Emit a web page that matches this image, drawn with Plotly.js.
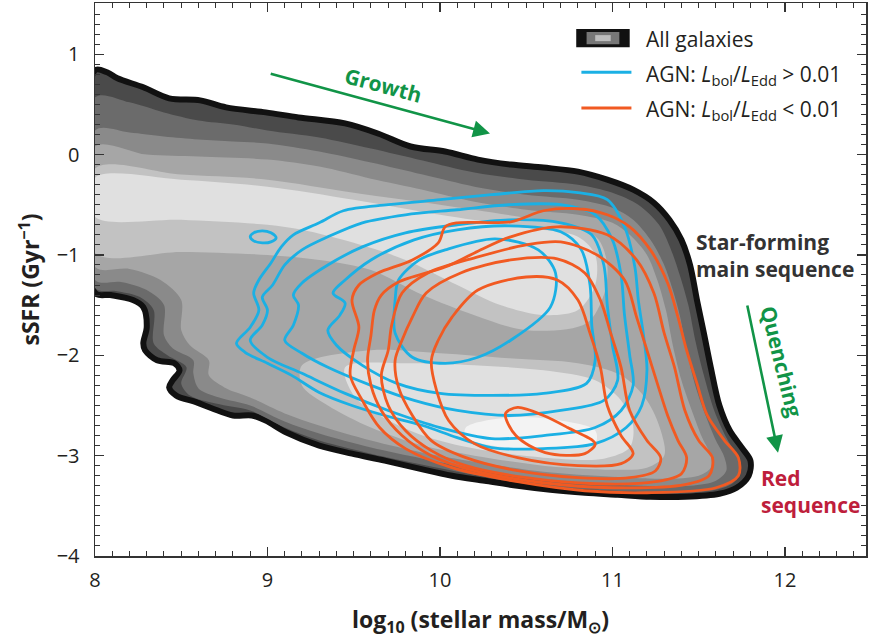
<!DOCTYPE html>
<html><head><meta charset="utf-8">
<script src="https://cdn.plot.ly/plotly-3.0.1.min.js"></script>
<style>html,body{margin:0;padding:0;background:#fff}#chart{width:869px;height:639px}</style>
</head><body><div id="chart"></div>
<script>
// ---------- All galaxies: nested density levels (outer -> inner) ----------
const galA_x = [8.0,8.07,8.13,8.28,8.43,8.61,8.76,8.99,9.18,9.45,9.64,9.83,10.03,10.22,10.41,10.6,10.8,10.97,11.12,11.24,11.33,11.4,11.45,11.49,11.53,11.57,11.62,11.68,11.75,11.8,11.79,11.72,11.62,11.42,11.22,11.03,10.84,10.64,10.45,10.26,10.07,9.88,9.68,9.49,9.3,9.11,8.99,8.91,8.8,8.68,8.59,8.47,8.43,8.45,8.49,8.46,8.36,8.29,8.28,8.3,8.28,8.22,8.09,8.0];
const galA_y = [0.84,0.82,0.76,0.67,0.56,0.54,0.47,0.42,0.37,0.31,0.21,0.08,0.03,-0.05,-0.1,-0.13,-0.17,-0.25,-0.35,-0.48,-0.65,-0.85,-1.1,-1.45,-1.78,-2.12,-2.5,-2.75,-2.92,-3.05,-3.2,-3.32,-3.38,-3.41,-3.41,-3.39,-3.37,-3.34,-3.3,-3.25,-3.2,-3.13,-3.05,-2.98,-2.9,-2.77,-2.65,-2.6,-2.6,-2.53,-2.47,-2.4,-2.32,-2.25,-2.15,-2.08,-2.05,-1.95,-1.88,-1.72,-1.52,-1.45,-1.4,-1.38];
const galB_x = [8.0,8.2,8.4,8.6,8.8,9.0,9.3,9.6,9.9,10.2,10.5,10.8,11.0,11.15,11.27,11.34,11.39,11.44,11.48,11.53,11.59,11.66,11.72,11.74,11.7,11.6,11.4,11.0,10.6,10.2,9.9,9.6,9.3,9.1,8.9,8.7,8.55,8.5,8.53,8.42,8.34,8.34,8.26,8.12,8.0];
const galB_y = [0.57,0.52,0.42,0.34,0.3,0.24,0.17,0.06,-0.06,-0.18,-0.25,-0.3,-0.38,-0.5,-0.7,-0.95,-1.2,-1.5,-1.85,-2.2,-2.55,-2.82,-3.0,-3.15,-3.27,-3.34,-3.37,-3.35,-3.3,-3.19,-3.09,-2.98,-2.85,-2.72,-2.55,-2.48,-2.4,-2.28,-2.12,-2.0,-1.88,-1.55,-1.42,-1.36,-1.33];
const galC_x = [8.0,8.2,8.4,8.6,8.8,9.0,9.3,9.6,9.9,10.2,10.5,10.8,11.0,11.12,11.22,11.3,11.35,11.39,11.43,11.48,11.54,11.6,11.65,11.66,11.6,11.45,11.0,10.6,10.2,9.9,9.6,9.3,9.1,8.9,8.72,8.6,8.57,8.57,8.45,8.4,8.4,8.3,8.15,8.0];
const galC_y = [0.24,0.22,0.18,0.15,0.13,0.11,0.03,-0.08,-0.2,-0.32,-0.4,-0.45,-0.53,-0.65,-0.85,-1.1,-1.35,-1.6,-1.95,-2.3,-2.6,-2.85,-3.02,-3.15,-3.25,-3.3,-3.29,-3.24,-3.13,-3.03,-2.92,-2.78,-2.66,-2.5,-2.42,-2.33,-2.18,-2.05,-1.93,-1.8,-1.5,-1.35,-1.27,-1.25];
const galD_x = [8.0,8.3,8.6,9.0,9.3,9.6,9.9,10.2,10.5,10.8,11.0,11.1,11.2,11.26,11.31,11.35,11.4,11.46,11.52,11.57,11.57,11.5,11.3,11.0,10.6,10.2,9.9,9.6,9.3,9.1,8.9,8.75,8.66,8.66,8.55,8.5,8.5,8.38,8.2,8.0];
const galD_y = [0.08,0.0,-0.02,-0.05,-0.12,-0.24,-0.35,-0.47,-0.55,-0.6,-0.68,-0.8,-1.0,-1.25,-1.55,-1.9,-2.25,-2.55,-2.82,-3.0,-3.12,-3.2,-3.23,-3.21,-3.16,-3.06,-2.97,-2.85,-2.7,-2.58,-2.42,-2.32,-2.2,-2.05,-1.9,-1.75,-1.45,-1.25,-1.14,-1.12];
const galE1_x = [8.0,8.5,9.0,9.5,10.0,10.5,10.8,10.92,10.97,10.95,10.85,10.5,10.2,9.9,9.6,9.3,9.0,8.5,8.0];
const galE1_y = [-0.14,-0.2,-0.25,-0.38,-0.5,-0.63,-0.72,-0.85,-1.1,-1.4,-1.68,-1.75,-1.6,-1.4,-1.15,-1.05,-1.0,-0.97,-0.98];
const galE2_x = [9.2,9.6,10.0,10.4,10.8,11.05,11.2,11.28,11.3,11.2,11.0,10.6,10.2,9.9,9.6,9.35,9.2];
const galE2_y = [-2.1,-1.95,-1.98,-2.03,-2.08,-2.2,-2.45,-2.75,-3.0,-3.12,-3.14,-3.1,-3.0,-2.9,-2.72,-2.5,-2.3];
const galF1_x = [8.0,8.5,9.0,9.5,10.0,10.5,10.8,10.9,10.9,10.8,10.6,10.35,10.1,9.8,9.5,9.2,9.0,8.5,8.0];
const galF1_y = [-0.23,-0.25,-0.32,-0.45,-0.6,-0.73,-0.82,-1.0,-1.3,-1.55,-1.6,-1.5,-1.3,-1.05,-0.88,-0.75,-0.7,-0.65,-0.62];
const galF2_x = [9.45,9.8,10.2,10.6,10.9,11.05,11.12,11.1,10.95,10.6,10.2,9.9,9.65,9.5];
const galF2_y = [-2.12,-2.08,-2.1,-2.15,-2.25,-2.45,-2.7,-2.92,-3.03,-3.02,-2.93,-2.8,-2.6,-2.4];
const galG_x = [10.15,10.4,10.7,10.9,10.9,10.6,10.3,10.15];
const galG_y = [-2.72,-2.62,-2.65,-2.75,-2.88,-2.94,-2.9,-2.82];

// ---------- AGN L_bol/L_Edd > 0.01 (blue contours) ----------
const blue1_x = [8.82,8.9,8.95,8.92,8.95,9.02,9.08,9.15,9.3,9.44,9.7,10.0,10.3,10.6,10.8,10.97,11.07,11.13,11.15,11.18,11.2,11.17,11.08,10.9,10.6,10.3,10.1,9.9,9.68,9.49,9.3,9.14,9.0,8.87];
const blue1_y = [-1.88,-1.72,-1.55,-1.38,-1.25,-1.08,-0.92,-0.8,-0.68,-0.56,-0.5,-0.45,-0.4,-0.36,-0.38,-0.45,-0.72,-1.12,-1.45,-1.8,-2.15,-2.5,-2.72,-2.88,-2.93,-2.92,-2.82,-2.7,-2.6,-2.5,-2.37,-2.2,-2.08,-1.97];
const blue2_x = [8.9,8.97,9.0,8.97,9.03,9.1,9.2,9.35,9.55,9.8,10.1,10.4,10.7,10.9,11.0,11.05,11.07,11.1,11.12,11.05,10.9,10.6,10.3,10.0,9.7,9.45,9.2,9.0];
const blue2_y = [-1.85,-1.7,-1.55,-1.42,-1.3,-1.1,-0.95,-0.82,-0.68,-0.6,-0.55,-0.5,-0.5,-0.6,-0.85,-1.2,-1.6,-2.0,-2.3,-2.55,-2.72,-2.8,-2.83,-2.72,-2.55,-2.38,-2.18,-2.02];
const blue3_x = [9.1,9.15,9.18,9.15,9.2,9.35,9.55,9.8,10.1,10.4,10.7,10.88,10.95,10.97,11.0,11.03,10.95,10.7,10.4,10.1,9.85,9.6,9.35,9.2];
const blue3_y = [-1.85,-1.7,-1.5,-1.4,-1.28,-1.1,-0.92,-0.78,-0.7,-0.65,-0.68,-0.8,-1.1,-1.5,-1.9,-2.25,-2.45,-2.55,-2.6,-2.55,-2.45,-2.3,-2.12,-1.98];
const blue4_x = [9.35,9.42,9.45,9.38,9.45,9.6,9.85,10.1,10.4,10.7,10.82,10.87,10.88,10.9,10.85,10.6,10.3,10.0,9.75,9.55,9.4];
const blue4_y = [-1.75,-1.6,-1.48,-1.38,-1.25,-1.05,-0.85,-0.75,-0.71,-0.77,-0.95,-1.3,-1.7,-2.05,-2.28,-2.38,-2.4,-2.38,-2.28,-2.1,-1.9];
const blue5_x = [9.74,9.76,9.88,10.03,10.32,10.57,10.67,10.64,10.41,10.22,10.03,9.84,9.74];
const blue5_y = [-1.45,-1.25,-1.05,-0.95,-0.84,-0.95,-1.18,-1.52,-1.85,-2.02,-2.08,-2.02,-1.78];
const blue6_x = [8.9,8.92,8.97,9.02,9.05,9.02,8.97,8.92];
const blue6_y = [-0.82,-0.78,-0.76,-0.78,-0.83,-0.87,-0.88,-0.86];

// ---------- AGN L_bol/L_Edd < 0.01 (orange contours) ----------
const orange1_x = [9.99,10.03,10.1,10.41,10.6,10.8,10.97,11.1,11.22,11.32,11.38,11.43,11.49,11.55,11.65,11.73,11.73,11.6,11.2,10.84,10.45,10.07,9.8,9.65,9.55,9.48,9.5,9.53,9.49,9.53,9.64,9.84];
const orange1_y = [-0.88,-0.72,-0.68,-0.67,-0.56,-0.54,-0.6,-0.72,-0.95,-1.28,-1.62,-1.95,-2.28,-2.6,-2.85,-3.02,-3.2,-3.32,-3.37,-3.35,-3.26,-3.12,-2.93,-2.72,-2.45,-2.2,-1.95,-1.72,-1.45,-1.3,-1.18,-1.05];
const orange2_x = [10.03,10.2,10.41,10.68,10.97,11.14,11.24,11.3,11.36,11.42,11.5,11.58,11.56,11.42,11.0,10.6,10.2,9.95,9.78,9.66,9.6,9.58,9.6,9.62,9.66,9.76];
const orange2_y = [-1.12,-0.98,-0.82,-0.72,-0.8,-1.05,-1.38,-1.78,-2.12,-2.55,-2.85,-3.02,-3.2,-3.29,-3.32,-3.27,-3.15,-3.0,-2.8,-2.55,-2.3,-2.05,-1.8,-1.55,-1.4,-1.27];
const orange3_x = [9.78,9.93,10.22,10.5,10.7,10.91,11.07,11.14,11.2,11.26,11.32,11.38,11.43,11.4,11.25,10.9,10.5,10.15,9.95,9.8,9.7,9.66,9.7,9.72];
const orange3_y = [-1.38,-1.18,-1.02,-0.9,-0.87,-1.0,-1.25,-1.62,-1.95,-2.28,-2.6,-2.85,-3.02,-3.18,-3.26,-3.28,-3.22,-3.1,-2.95,-2.75,-2.5,-2.2,-1.95,-1.7];
const orange4_x = [9.84,9.92,10.12,10.41,10.68,10.84,10.93,10.99,11.05,11.1,11.2,11.28,11.25,11.1,10.8,10.45,10.15,9.95,9.84,9.76,9.74,9.78];
const orange4_y = [-1.62,-1.38,-1.18,-1.05,-1.04,-1.18,-1.45,-1.78,-2.12,-2.55,-2.85,-3.02,-3.15,-3.22,-3.22,-3.15,-3.02,-2.85,-2.6,-2.32,-2.05,-1.85];
const orange5_x = [10.07,10.22,10.5,10.68,10.8,10.87,10.93,10.97,11.05,11.12,11.05,10.8,10.45,10.2,10.05,9.98,9.95,9.99];
const orange5_y = [-1.62,-1.35,-1.22,-1.25,-1.45,-1.78,-2.12,-2.5,-2.8,-2.98,-3.08,-3.1,-3.02,-2.88,-2.65,-2.35,-2.05,-1.85];
const orange6_x = [10.38,10.45,10.6,10.74,10.9,10.84,10.61,10.44];
const orange6_y = [-2.58,-2.52,-2.6,-2.72,-2.88,-2.98,-2.97,-2.8];

const xTickVals = [8,9,10,11,12];
const yTickVals = [-4,-3,-2,-1,0,1];

const BLUE = '#1bb0e4', ORANGE = '#f15a22', GREEN = '#119447', RED = '#be1e3c', INK = '#231f20';
const FONT = 'Open Sans, Noto Sans, sans-serif';
const X_RANGE = [8, 12.47], Y_RANGE = [-4, 1.51];

function loop(x, y, fill, lineColor, width) {
  return {
    type: 'scatter', mode: 'lines',
    x: x.concat([x[0]]), y: y.concat([y[0]]),
    fill: fill ? 'toself' : 'none', fillcolor: fill || undefined,
    line: {color: lineColor || 'rgba(0,0,0,0)', width: width || 0, shape: 'spline', smoothing: 0.9},
    hoverinfo: 'skip', showlegend: false
  };
}

const traces = [
  loop(galA_x, galA_y, '#4a4a4a', '#111111', 6),
  loop(galB_x, galB_y, '#6b6b6b'),
  loop(galC_x, galC_y, '#8a8a8a'),
  loop(galD_x, galD_y, '#a6a6a6'),
  loop(galE1_x, galE1_y, '#c2c2c2'),
  loop(galE2_x, galE2_y, '#c2c2c2'),
  loop(galF1_x, galF1_y, '#e0e0e0'),
  loop(galF2_x, galF2_y, '#e0e0e0'),
  loop(galG_x, galG_y, '#f3f3f3'),
  loop(blue1_x, blue1_y, null, BLUE, 2.8),
  loop(blue2_x, blue2_y, null, BLUE, 2.8),
  loop(blue3_x, blue3_y, null, BLUE, 2.8),
  loop(blue4_x, blue4_y, null, BLUE, 2.8),
  loop(blue5_x, blue5_y, null, BLUE, 2.8),
  loop(blue6_x, blue6_y, null, BLUE, 2.8),
  loop(orange1_x, orange1_y, null, ORANGE, 2.8),
  loop(orange2_x, orange2_y, null, ORANGE, 2.8),
  loop(orange3_x, orange3_y, null, ORANGE, 2.8),
  loop(orange4_x, orange4_y, null, ORANGE, 2.8),
  loop(orange5_x, orange5_y, null, ORANGE, 2.8),
  loop(orange6_x, orange6_y, null, ORANGE, 2.8),
  // empty trace that only carries the top/right tick axes
  {type: 'scatter', mode: 'lines', x: [], y: [], xaxis: 'x2', yaxis: 'y2', hoverinfo: 'skip', showlegend: false}
];

const axisCommon = {
  ticks: 'inside', ticklen: 9, tickwidth: 1.3, tickcolor: '#333',
  minor: {ticks: 'inside', ticklen: 5, tickwidth: 1, tickcolor: '#333', dtick: 0.1},
  showline: true, linecolor: '#333', linewidth: 1.5, mirror: 'ticks',
  showgrid: false, zeroline: false,
  tickfont: {family: FONT, size: 20, color: INK}
};
const mirrorAxis = {
  ticks: 'inside', ticklen: 9, tickwidth: 1.3, tickcolor: '#333',
  minor: {ticks: 'inside', ticklen: 5, tickwidth: 1, tickcolor: '#333', dtick: 0.1},
  showline: false, showgrid: false, zeroline: false, showticklabels: false
};

const layout = {
  width: 869, height: 639,
  margin: {l: 95, r: 3, t: 3, b: 83},
  paper_bgcolor: '#fff', plot_bgcolor: '#fff',
  showlegend: false, hovermode: false,
  xaxis: Object.assign({}, axisCommon, {
    range: X_RANGE, tickvals: xTickVals, ticktext: xTickVals.map(String),
    ticklabelstandoff: 5,
    title: {text: 'log<sub>10</sub> (stellar mass/M<sub>⊙</sub>)', standoff: 20,
            font: {family: FONT, size: 23, color: INK, weight: 'bold'}}
  }),
  yaxis: Object.assign({}, axisCommon, {
    range: Y_RANGE, tickvals: yTickVals, ticktext: yTickVals.map(v => v < 0 ? '−' + Math.abs(v) : String(v)),
    ticklabelstandoff: 10,
    title: {text: 'sSFR (Gyr<sup>−1</sup>)', standoff: 10,
            font: {family: FONT, size: 23, color: INK, weight: 'bold'}}
  }),
  xaxis2: Object.assign({}, mirrorAxis, {overlaying: 'x', side: 'top', anchor: 'y2', range: X_RANGE, dtick: 1, tick0: 8}),
  yaxis2: Object.assign({}, mirrorAxis, {overlaying: 'y', side: 'right', anchor: 'x2', range: Y_RANGE, dtick: 1, tick0: 0}),
  shapes: [
    {type: 'rect', xref: 'x', yref: 'y', x0: 10.79, x1: 11.10, y0: 1.07, y1: 1.25, fillcolor: '#111', line: {width: 0}},
    {type: 'rect', xref: 'x', yref: 'y', x0: 10.85, x1: 11.04, y0: 1.10, y1: 1.22, fillcolor: '#777', line: {width: 0}},
    {type: 'rect', xref: 'x', yref: 'y', x0: 10.90, x1: 10.99, y0: 1.13, y1: 1.19, fillcolor: '#bdbdbd', line: {width: 0}},
    {type: 'line', xref: 'x', yref: 'y', x0: 10.82, x1: 11.11, y0: 0.82, y1: 0.82, line: {color: BLUE, width: 3}},
    {type: 'line', xref: 'x', yref: 'y', x0: 10.82, x1: 11.11, y0: 0.465, y1: 0.465, line: {color: ORANGE, width: 3}}
  ],
  annotations: [
    {xref: 'x', yref: 'y', x: 11.18, y: 1.15, xanchor: 'left', yanchor: 'middle', showarrow: false,
     text: 'All galaxies', font: {family: FONT, size: 21, color: INK}},
    {xref: 'x', yref: 'y', x: 11.18, y: 0.79, xanchor: 'left', yanchor: 'middle', showarrow: false,
     text: 'AGN: <i>L</i><sub>bol</sub>/<i>L</i><sub>Edd</sub> &gt; 0.01', font: {family: FONT, size: 21, color: INK}},
    {xref: 'x', yref: 'y', x: 11.18, y: 0.44, xanchor: 'left', yanchor: 'middle', showarrow: false,
     text: 'AGN: <i>L</i><sub>bol</sub>/<i>L</i><sub>Edd</sub> &lt; 0.01', font: {family: FONT, size: 21, color: INK}},
    // Growth arrow
    {xref: 'x', yref: 'y', axref: 'x', ayref: 'y', x: 10.29, y: 0.21, ax: 9.01, ay: 0.81, text: '',
     showarrow: true, arrowhead: 2, arrowsize: 1.3, arrowwidth: 2.6, arrowcolor: GREEN},
    {xref: 'x', yref: 'y', x: 9.67, y: 0.69, text: 'Growth', showarrow: false, textangle: 15,
     font: {family: FONT, size: 21, color: GREEN, weight: 'bold'}},
    // Quenching arrow
    {xref: 'x', yref: 'y', axref: 'x', ayref: 'y', x: 11.96, y: -2.97, ax: 11.78, ay: -1.49, text: '',
     showarrow: true, arrowhead: 2, arrowsize: 1.3, arrowwidth: 2.6, arrowcolor: GREEN},
    {xref: 'x', yref: 'y', x: 11.98, y: -2.07, text: 'Quenching', showarrow: false, textangle: 76,
     font: {family: FONT, size: 21, color: GREEN, weight: 'bold'}},
    {xref: 'x', yref: 'y', x: 11.47, y: -1.01, xanchor: 'left', yanchor: 'middle', align: 'left', showarrow: false,
     text: 'Star-forming<br>main sequence', font: {family: FONT, size: 21, color: '#333', weight: 'bold'}},
    {xref: 'x', yref: 'y', x: 11.85, y: -3.36, xanchor: 'left', yanchor: 'middle', align: 'left', showarrow: false,
     text: 'Red<br>sequence', font: {family: FONT, size: 21, color: RED, weight: 'bold'}}
  ]
};

Plotly.newPlot('chart', traces, layout, {staticPlot: true, displayModeBar: false});
</script></body></html>
